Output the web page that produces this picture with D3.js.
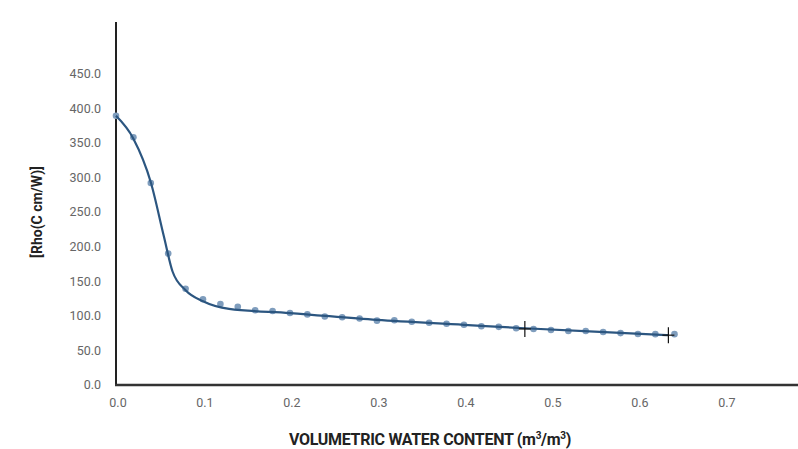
<!DOCTYPE html>
<html>
<head>
<meta charset="utf-8">
<script src="https://cdn.jsdelivr.net/npm/d3@7"></script>
<style>
  body { margin: 0; background: #fff; }
  svg { display: block; font-family: Roboto, 'Noto Sans', sans-serif; }
</style>
</head>
<body>
<div id="chart_area"></div>
<script>
// measured points (volumetric water content vs rho)
const waterContent = [0, 0.02, 0.04, 0.06, 0.08, 0.10, 0.12, 0.14, 0.16, 0.18, 0.20,
  0.22, 0.24, 0.26, 0.28, 0.30, 0.32, 0.34, 0.36, 0.38, 0.40, 0.42, 0.44, 0.46,
  0.48, 0.50, 0.52, 0.54, 0.56, 0.58, 0.60, 0.62, 0.642];
const rho = [389, 358, 292, 190, 139, 124, 117, 113, 108, 107, 104,
  102, 99, 98, 96, 93, 93.5, 91.5, 90, 88.6, 87, 85, 84, 82,
  81, 79.5, 78, 78, 76.6, 75, 73.7, 73.5, 73.5];
// fitted curve control values
const fitX = [0, 0.02, 0.04, 0.055, 0.065, 0.08, 0.10, 0.13, 0.2, 0.3, 0.4, 0.47, 0.55, 0.635];
const fitY = [389, 356, 293, 215, 164, 137, 121, 110, 104, 94, 87, 82, 77, 72];
// marked points
const markX = [0.47, 0.635];
const markY = [81, 72];
const yTicks = [0, 50, 100, 150, 200, 250, 300, 350, 400, 450];
const xTicks = [0, 0.1, 0.2, 0.3, 0.4, 0.5, 0.6, 0.7];

const width = 798, height = 449;
const margin = { top: 22, right: 0, bottom: 64, left: 116 };

const svg = d3.select('#chart_area').append('svg')
  .attr('width', width).attr('height', height);

const x = d3.scaleLinear().domain([0, 0.784]).range([margin.left, width - margin.right]);
const y = d3.scaleLinear().domain([0, 500]).range([height - margin.bottom, height - margin.bottom - 346]);

// y tick labels
svg.append('g').selectAll('text').data(yTicks).join('text')
  .attr('x', 101)
  .attr('y', d => y(d))
  .attr('dy', '0.35em')
  .attr('text-anchor', 'end')
  .attr('fill', '#666')
  .attr('font-size', 12.5)
  .text(d => d.toFixed(1));

// x tick labels
svg.append('g').selectAll('text').data(xTicks).join('text')
  .attr('x', d => x(d) + 2)
  .attr('y', 407)
  .attr('text-anchor', 'middle')
  .attr('fill', '#666')
  .attr('font-size', 12.5)
  .text(d => d.toFixed(1));

// axes lines
svg.append('line')
  .attr('x1', x(0)).attr('x2', x(0))
  .attr('y1', margin.top).attr('y2', y(0) + 1)
  .attr('stroke', '#222').attr('stroke-width', 2);
svg.append('line')
  .attr('x1', x(0) - 1).attr('x2', width)
  .attr('y1', y(0)).attr('y2', y(0))
  .attr('stroke', '#333').attr('stroke-width', 2.5);

// points
svg.append('g').selectAll('circle').data(waterContent).join('circle')
  .attr('cx', d => x(d))
  .attr('cy', (d, i) => y(rho[i]))
  .attr('r', 3.3)
  .attr('fill', '#7f9dbd');

// fit line
const line = d3.line()
  .x(d => x(d))
  .y((d, i) => y(fitY[i]))
  .curve(d3.curveMonotoneX);
svg.append('path')
  .datum(fitX)
  .attr('d', line)
  .attr('fill', 'none')
  .attr('stroke', '#2c5680')
  .attr('stroke-width', 2.2);

// cross markers
const marks = svg.append('g').attr('stroke', '#111').attr('stroke-width', 1.2);
markX.forEach((mx, i) => {
  marks.append('line')
    .attr('x1', x(mx)).attr('x2', x(mx))
    .attr('y1', y(markY[i]) - 8).attr('y2', y(markY[i]) + 8);
  marks.append('line')
    .attr('x1', x(mx) - 6).attr('x2', x(mx) + 6)
    .attr('y1', y(markY[i])).attr('y2', y(markY[i]));
});

// axis titles
svg.append('text')
  .attr('x', 430).attr('y', 445)
  .attr('text-anchor', 'middle')
  .attr('font-size', 16)
  .attr('font-weight', 'bold')
  .attr('fill', '#222')
  .attr('letter-spacing', -0.3)
  .html('VOLUMETRIC WATER CONTENT (m<tspan font-size="10" dy="-6">3</tspan><tspan dy="6">/m</tspan><tspan font-size="10" dy="-6">3</tspan><tspan dy="6">)</tspan>');

svg.append('text')
  .attr('transform', 'translate(42,' + 212 + ') rotate(-90)')
  .attr('text-anchor', 'middle')
  .attr('font-size', 14)
  .attr('font-weight', 'bold')
  .attr('fill', '#222')
  .text('[Rho(C cm/W)]');
</script>
</body>
</html>
